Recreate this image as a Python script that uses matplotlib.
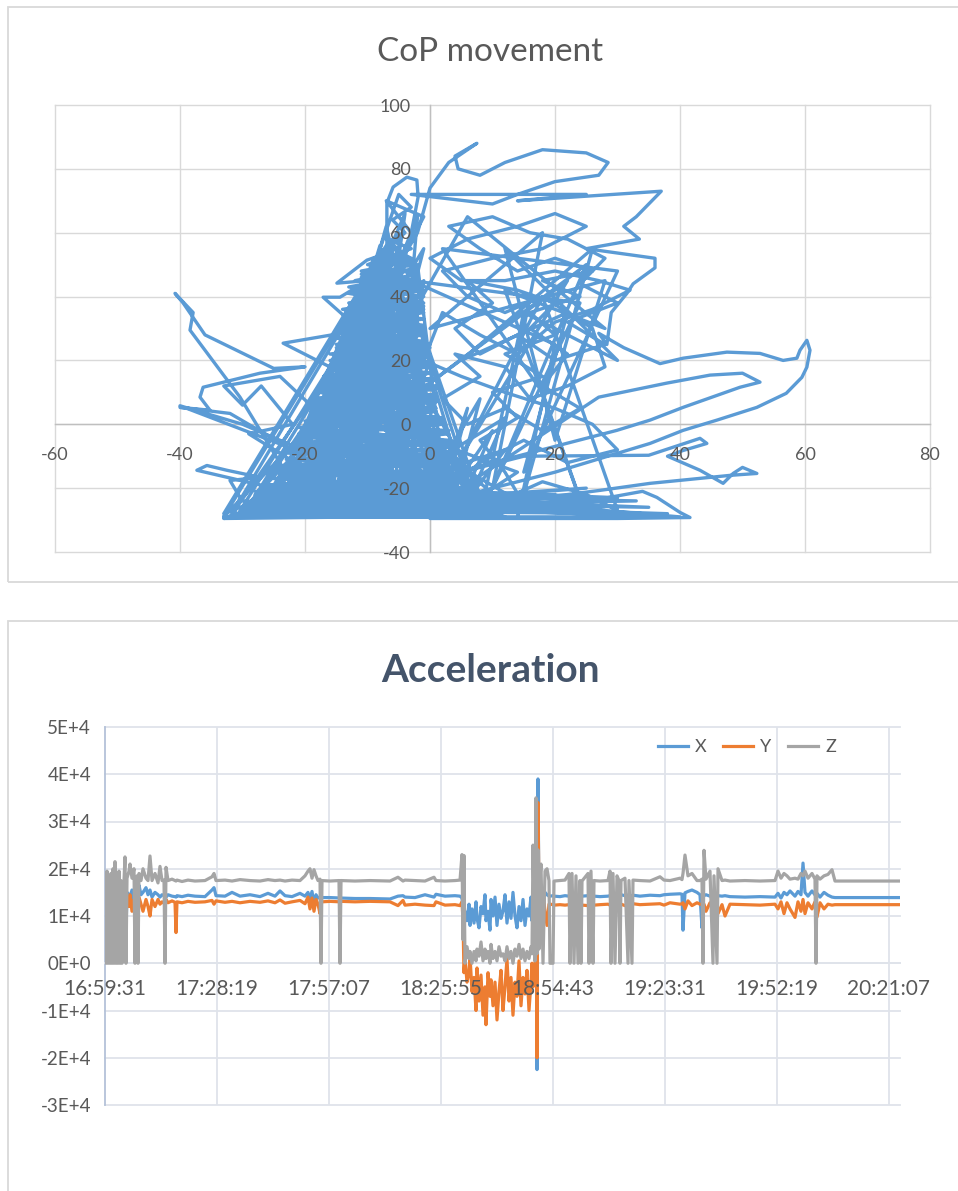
import matplotlib
matplotlib.use('Agg')
import matplotlib.pyplot as plt
from matplotlib.patches import Rectangle

plt.rcParams['font.family'] = ['Lato', 'DejaVu Sans']

# ---------------- CoP movement data (x, y) ----------------
cop_core = [
    (-20, -29), (-8, 45), (-25, -29), (-5, 55), (-12, -29), (-10, 35), (-30, -29), (-6, 40), (-15, -29), (-3, 60),
    (-22, -29), (-9, 30), (-5, -29), (-12, 20), (-28, -29), (-4, 50), (-18, -29), (-7, 25), (-2, -29), (-11, 42),
    (-26, -29), (-2, 35), (-10, -29), (-14, 10), (-33, -29), (-6, 58), (-16, -29), (-1, 45), (-8, -29), (-13, 28),
    (0, -29), (-9, 52), (-24, -29), (-4, 15), (4, -29), (-7, 62), (-20, -29), (-3, 25), (-14, -29), (-10, 48),
    (2, -29), (-5, 38), (-27, -29), (-1, 55), (-12, -29), (-15, 18), (6, -29), (-8, 33), (-19, -29), (-2, 65),
    (-6, -29), (-11, 5), (8, -29), (-4, 44), (-23, -29), (-7, 18), (10, -29), (-9, 40), (-31, -29), (-3, 30),
    (-17, -29), (-6, 48), (-1, -29), (-12, 38), (5, -29), (-5, 22), (-21, -29), (-8, 56), (-9, -29), (0, 20),
    (-29, -29), (-10, 12), (3, -29), (-2, 50), (-13, -29), (-13, 33), (-7, -29), (-6, 28), (-25, -29), (-4, 66),
    (-11, -29), (1, 10), (7, -29), (-9, 24), (-3, -29), (-7, 52), (-18, -29), (-16, 0), (1, -29), (-3, 40),
    (-15, -29), (-11, 30), (-32, -29), (-5, 60), (-4, -29), (-1, 28), (9, -29), (-8, 15), (-22, -29), (-6, 35),
]
cop_fill_a = [
    (-9, 52), (-2, 49), (-12, 45), (-1, 42), (-13, 38), (-1, 35), (-14, 31), (-1, 28), (-15, 24), (0, 21),
    (-16, 17), (1, 14), (-18, 10), (1, 7), (-19, 3), (2, 0), (-21, -4), (4, -7), (-23, -11), (5, -14),
    (-25, -17), (7, -20), (-28, -23), (10, -26), (-32, -29),
    (11, -28), (-29, -25), (8, -22), (-26, -19), (6, -16), (-24, -13), (5, -9), (-22, -6), (3, -2), (-20, 1),
    (1, 5), (-19, 8), (1, 12), (-17, 15), (0, 19), (-16, 22), (-1, 26), (-14, 29), (-1, 33), (-14, 36),
    (-1, 40), (-13, 43), (-2, 47), (-10, 50), (-3, 55),
]
cop_fill_b = [
    (-7, 58), (-4, 53), (-11, 47), (-2, 44), (-12, 41), (-2, 37), (-13, 34), (-1, 30), (-15, 27), (-1, 23),
    (-15, 19), (0, 16), (-17, 12), (1, 9), (-18, 5), (2, 2), (-20, -1), (2, -5), (-22, -8), (4, -11),
    (-24, -14), (6, -17), (-26, -20), (8, -23), (-30, -27), (12, -29),
    (-31, -28), (9, -25), (-27, -22), (7, -18), (-25, -15), (5, -12), (-23, -9), (3, -6), (-21, -3), (2, 1),
    (-19, 4), (1, 8), (-18, 11), (0, 14), (-16, 18), (0, 22), (-15, 25), (-1, 29), (-14, 32), (-1, 36),
    (-12, 39), (-2, 43), (-11, 46), (-3, 50), (-8, 53), (-4, 60), (-6, 64), (-3, 68), (-5, 72),
]
cop_fill_c = [
    (-8, 55), (-3, 51), (-11, 48), (-2, 45), (-12, 42), (-1, 38), (-13, 35), (-2, 32), (-14, 28), (0, 25),
    (-15, 21), (0, 18), (-17, 14), (1, 11), (-18, 7), (1, 4), (-20, 0), (3, -3), (-22, -7), (4, -10),
    (-24, -13), (6, -16), (-26, -19), (8, -22), (-29, -25), (11, -27), (-33, -29),
    (10, -29), (-30, -26), (9, -24), (-27, -20), (6, -18), (-25, -14), (5, -11), (-23, -8), (3, -5), (-21, -1),
    (2, 2), (-19, 6), (1, 9), (-17, 13), (0, 16), (-16, 20), (0, 24), (-15, 27), (-1, 31), (-13, 34),
    (-1, 37), (-13, 41), (-2, 44), (-10, 48), (-3, 52), (-7, 56),
]
cop_base = [
    (-33, -28), (-20, -18), (-28, -29), (-10, -15), (-22, -29), (-25, -20), (-15, -29), (5, -12), (-8, -29), (-18, -16),
    (-3, -29), (8, -18), (0, -29), (-12, -10), (12, -29), (-30, -24), (3, -29), (-6, -5), (10, -28), (-26, -14),
    (-1, -29), (14, -22), (-20, -29), (2, -8), (-12, -29), (-28, -22), (6, -29), (-4, -12), (-30, -29), (15, -26),
]
cop_floor = [
    (-30, -27), (38, -28), (-25, -24), (35, -26), (-28, -21), (30, -23), (-20, -19), (40, -29), (-33, -29), (25, -20),
    (-22, -26), (33, -24), (-18, -22), (28, -27), (-26, -28), (20, -22), (-15, -25), (37, -29), (-10, -21), (22, -25),
]
cop_right_core = [
    (0, -29), (6, 5), (2, -25), (10, -2), (4, -29), (12, -8), (1, -15), (8, 8), (3, -29), (14, -15),
    (0, -5), (9, -20), (5, -29), (12, 2), (2, -10), (15, -25),
]
cop_mid = [
    (12, -15), (8, -5), (14, 2), (10, 10), (18, 15), (12, 22), (20, 28), (16, 35), (24, 40), (18, 45),
    (26, 48), (20, 52), (14, 48), (8, 55), (3, 62), (10, 65), (16, 60), (22, 58), (28, 52), (24, 44),
    (30, 38), (22, 32), (28, 25), (20, 20), (14, 28), (8, 22), (4, 30), (10, 38), (6, 45), (14, 42),
    (20, 38), (16, 30), (22, 22), (18, 12), (24, 5), (18, -2), (12, 5), (6, 0), (2, 8), (8, 15),
    (4, 22), (12, 18), (16, 8), (22, 12), (28, 18), (26, 30), (18, 40), (12, 35), (6, 40), (2, 48),
    (10, 52), (18, 55), (25, 62), (20, 66), (14, 62), (6, 58), (0, 52), (5, 45), (12, 45), (20, 48),
    (27, 45), (32, 42), (26, 36), (20, 32), (14, 22), (8, 28), (2, 35), (-1, 20), (5, 15), (12, 10),
    (20, 5), (26, 0), (30, -8), (22, -12), (15, -5), (8, -12), (3, -20), (10, -25), (18, -18), (25, -22),
    (30, -27), (18, 40), (5, -10), (22, 45), (-2, 10), (25, 50), (8, -29), (15, 35), (30, 20), (12, 55),
    (20, -5), (28, 45), (0, 30), (18, 60), (10, -20), (24, 38), (-3, 45), (20, 25), (14, -29), (26, 55),
    (5, 20), (22, 35), (15, -15), (30, 48), (2, 55), (18, 10), (25, -29), (12, 42), (28, 30), (6, 65),
]
cop_left = [
    (-20, -25), (-30.4, 8.5), (-38.4, 29.5), (-37.9, 35), (-40.8, 41), (-39.5, 38), (-36, 28), (-25, 17.5), (-20, 18), (-27.2, 16),
    (-36.3, 11.6), (-36.8, 8.5), (-35.2, 4.4), (-40, 5.3), (-32, 3.4), (-22.9, -7), (-40, 5.8), (-30, 0), (-18, -10), (-5, -20),
    (-24, 15), (-33, 12), (-30, 6), (-27, 12), (-22, 0), (-29, -3), (-15, -20), (-25, -20), (-37.3, -14.4), (-35.7, -12.9),
    (-32.5, -14.4), (-27.2, -16.6), (-32, -17.6), (-30.4, -22.9), (-31.5, -29.2), (-33, -29.5), (-10, -29), (-8, 10), (-23.5, 25.4), (-20.8, 26.3),
    (-11.2, 29.5), (-17.1, 39.8), (-14.4, 39.8), (-10, 45), (-14.9, 44.2), (-10.1, 51.4), (-6.9, 53.6), (-6.9, 69.3), (-5.9, 74.3), (-3.7, 77.4),
    (-2.1, 76.5), (-1.9, 71.2), (-3, 60), (-7, 70), (-1, 65), (-5, 50),
]
cop_top = [
    (-2, 60), (0, 74), (3, 82), (6, 86), (7.5, 88), (4, 84), (4.5, 80), (8, 78), (12, 82), (18, 86),
    (25, 85), (28.5, 82), (27, 78), (20, 76), (14, 72), (10, 69), (-3, 72), (25, 72), (14, 70), (37, 73),
    (35.5, 70), (33, 65), (31, 62), (33.5, 58), (25, 55), (36, 52), (36, 49), (32.5, 44), (31.5, 41), (29, 35),
    (28.3, 25), (27, 28.5), (31, 24), (36.8, 19), (40.5, 20.7), (47.5, 22.6), (52.8, 22.2), (56.5, 20), (58.7, 20.7), (59.2, 23.2),
    (60.3, 26.3), (60.8, 23.2), (60.3, 17.9), (59.5, 14.7), (57, 9.7), (52.3, 5.3), (45.9, 1.3), (40.5, -1.9), (35.2, -6), (20, -15),
    (0, -25), (-10, -29), (5, -20), (27, 8.5), (37.9, 12.9), (44.8, 15.4), (50, 16), (52.8, 13.2), (49.6, 11.6), (40.5, 5.3),
    (35.2, 1.3), (29.9, -1.9), (10, -12), (-5, -20), (15, -10), (35, -9.7), (43.2, -4.4), (44.3, -6), (40.5, -8.2), (38, -10),
    (43.2, -14.4), (46.9, -18.5), (48.5, -15.4), (50, -13.5), (52.3, -15.4), (48, -16), (35.2, -18.5), (27.2, -20.7), (10, -25), (20, -26),
    (34, -21), (36.3, -22.9), (40, -27.6), (41.6, -29.2), (30, -29.5), (0, -29.5),
]
cop_xticks = [-60, -40, -20, 0, 20, 40, 60, 80]
cop_yticks = [-40, -20, 0, 20, 40, 60, 80, 100]

# ---------------- Acceleration data ----------------
# minutes after 16:59:31
acc_t = [
    0.0, 0.26, 0.51, 0.77, 1.03, 1.29, 1.54, 1.80, 2.06, 2.31,
    2.57, 2.83, 3.09, 3.34, 3.60, 3.86, 4.11, 4.37, 4.89, 5.14,
    5.40, 5.66, 6.17, 6.43, 6.94, 7.46, 7.71, 7.97, 8.23, 8.49,
    8.74, 9.26, 9.77, 10.54, 11.06, 11.57, 12.09, 12.86, 13.63, 14.14,
    14.66, 15.17, 15.43, 15.69, 16.20, 17.23, 18.00, 18.26, 18.51, 19.80, 21.34, 23.14,
    25.71, 27.51, 28.03, 28.54, 30.86, 32.66, 34.71, 37.29, 39.86, 41.91,
    43.71, 45.00, 46.29, 48.09, 50.14, 51.43, 52.20, 52.71, 53.23, 53.74,
    54.26, 54.77, 55.29, 55.54, 55.80, 57.86, 60.17, 60.43, 60.69, 64.29, 68.14,
    73.29, 75.34, 76.63, 77.14, 79.71, 82.29, 84.60, 85.11, 87.43, 90.00,
    91.29, 91.80, 92.06, 92.31, 92.57, 93.09, 93.60, 93.86, 94.37, 94.89,
    95.40, 95.66, 96.17, 96.69, 97.20, 97.71, 97.97, 98.49, 99.00, 99.26,
    99.77, 100.29, 100.80, 101.31, 101.83, 102.34, 102.86, 103.37, 103.89, 104.40,
    104.91, 105.43, 105.94, 106.46, 106.97, 107.49, 108.00, 108.51, 109.03, 109.54,
    109.80, 110.06, 110.57, 110.83, 111.09, 111.34, 111.60, 111.86, 112.11, 112.63,
    113.14, 113.66, 114.17, 114.43, 115.20, 115.46, 117.00, 118.29, 119.31, 119.57,
    120.09, 120.60, 121.11, 121.63, 122.14, 122.40, 122.66, 124.20, 124.46, 124.97,
    125.49, 125.74, 127.29, 129.34, 129.86, 130.11, 130.63, 131.14, 131.66, 132.17,
    132.43, 132.69, 133.71, 134.49, 134.74, 135.51, 135.77, 137.57, 140.14, 142.71,
    143.74, 145.29, 147.86, 148.37, 148.63, 149.14, 149.91, 150.94, 152.23, 153.00, 153.51,
    153.77, 154.03, 154.54, 155.57, 156.34, 156.60, 157.37, 157.63, 158.66, 159.43,
    160.71, 164.57, 168.43, 172.29, 173.06, 173.83, 174.60, 175.37, 176.14, 177.43,
    178.20, 178.97, 179.49, 180.00, 180.77, 181.80, 182.57, 182.83, 183.09, 183.86,
    184.89, 185.91, 186.94, 187.71, 191.57, 196.71, 204.43,
]
acc_x = [
    18500, 14000, 15000, 13500, 14500, 14000, 15500, 13000, 14500, 14000,
    15000, 12000, 14500, 13500, 15000, 14000, 7500, 14500, 15000, 14000,
    7000, 15000, 14500, 14000, 15500, 13000, 14000, 14500, 15500, 14000,
    16500, 14500, 15000, 16000, 14500, 15500, 14000, 15000, 14500, 14000,
    14500, 14300, 14200, 14000, 14500, 14200, 14100, 14000, 14300, 14100, 14400, 14200,
    14100, 15500, 16000, 14300, 14200, 15000, 14200, 14500, 14100, 14800,
    14200, 15300, 14300, 14100, 14800, 14200, 15000, 13500, 15200, 12500,
    14500, 13800, 14000, 14000, 13900, 13900, 13800, 13800, 13800, 13700, 13700,
    13600, 14200, 14300, 14000, 13900, 14500, 14000, 14600, 14200, 14300,
    14200, 13800, 12000, 10000, 11000, 9000, 12500, 8000, 11500, 8500,
    13000, 9500, 7500, 12000, 10500, 14500, 9000, 11000, 7000, 13500,
    10000, 14000, 8000, 12500, 9500, 11000, 14500, 8500, 13000, 9500,
    15000, 10000, 7500, 12000, 9000, 13500, 8000, 11500, 10000, 14000,
    9000, 12000, 10000, 15000, -22500, 39000, 12000, 13000, 15500, 14000,
    15000, 14500, 14200, 14200, 14300, 14200, 14100, 14300, 14200, 14000,
    14500, 14000, 14300, 14200, 14200, 14200, 14200, 14300, 14000, 14500,
    14200, 14200, 14100, 14200, 14300, 14000, 14600, 14100, 14400, 14200,
    14200, 14500, 14300, 14200, 14600, 14200, 14400, 14200, 14400, 14300,
    14500, 14600, 14700, 14600, 7000, 14900, 15200, 15500, 15000, 14500, 7500,
    14200, 14300, 14500, 14200, 14200, 14400, 14100, 14300, 14200, 14300,
    14100, 14000, 14100, 14000, 14800, 13800, 15000, 14500, 15300, 14200,
    15200, 14500, 21200, 15000, 14200, 15300, 14500, 14200, 14800, 14000,
    15000, 14400, 14000, 13900, 13900, 13900, 13900,
]
acc_y = [
    11000, 13500, 11500, 12500, 14000, 11000, 13000, 12000, 14500, 12000,
    13500, 11500, 13000, 12500, 14000, 11500, 12000, 13500, 12500, 14000,
    11000, 13000, 12000, 14500, 11000, 13500, 12500, 10500, 13000, 12000,
    14000, 12500, 11000, 13500, 12000, 10000, 13500, 12000, 13500, 12500,
    13000, 12700, 12500, 13500, 12800, 13200, 12900, 6500, 13000, 12800, 13100, 12900,
    13000, 13300, 12500, 13200, 12900, 13100, 12800, 13100, 12900, 13200,
    12800, 13400, 12700, 13000, 13300, 12600, 14000, 11500, 13800, 11000,
    13500, 12500, 10500, 12800, 13000, 13100, 13000, 13000, 13100, 13000, 13100,
    13000, 12200, 13300, 12300, 12500, 12300, 12200, 13000, 12300, 12400,
    12200, 13000, 9000, -2000, 1000, -4000, -2000, 1500, -6000, -3000,
    -10000, -1000, -8000, -2500, -11000, -5000, -13000, -2000, -7000, -3500,
    -9000, -4000, -12000, -6000, -1500, -10000, -5000, 1000, -8000, -3000,
    -11000, -4000, -7000, 500, -9000, -3000, -6500, -1500, -10000, -4000,
    0, -5000, -2000, 12000, -20000, 34000, 14000, 10000, 12500, 15000,
    11000, 8000, 12500, 12500, 12400, 12300, 12400, 12300, 12400, 12200,
    12600, 12300, 12500, 12400, 12300, 12400, 12300, 12200, 12500, 12300,
    12400, 12300, 12400, 12500, 12300, 12600, 12200, 12500, 12300, 12400,
    12300, 12500, 12200, 12400, 12500, 12300, 12600, 12400, 12500, 12600,
    12300, 12800, 12500, 12600, 12800, 11500, 13200, 12200, 12800, 12500, 12400,
    12300, 12500, 11000, 12800, 12300, 12400, 12500, 10500, 12400, 10000,
    12500, 12400, 12300, 12500, 11500, 13000, 10500, 12800, 11500, 9700,
    13000, 11000, 13500, 10500, 12800, 11500, 13000, 12300, 9800, 12800,
    11500, 12500, 12300, 12400, 12400, 12400, 12400,
]
acc_z = [
    19000, 0, 19500, 0, 18500, 0, 19000, 0, 20000, 0,
    21500, 0, 18500, 0, 19500, 0, 17500, 0, 17500, 22500,
    0, 18000, 19500, 21000, 18000, 20000, 0, 17500, 18500, 0,
    19000, 17500, 20000, 18000, 17500, 22700, 17500, 19000, 17000, 20500,
    17500, 17600, 0, 20300, 17500, 17800, 17500, 17400, 17600, 17300, 17600, 17400,
    17500, 18300, 19000, 17500, 17600, 17400, 17700, 17500, 17400, 17700,
    17500, 17600, 17400, 17600, 17500, 18500, 19500, 20000, 18000, 19800,
    18500, 17500, 17800, 0, 17500, 17400, 17500, 0, 17500, 17400, 17500,
    17400, 18200, 17400, 17600, 17500, 17400, 18200, 17500, 17400, 17500,
    17600, 23000, 5000, 22800, 0, 3500, 1000, 2500, 0, 2500,
    500, 3000, 1500, 4500, 500, 3000, 1000, 2500, 0, 4000,
    1000, 2500, 500, 3500, 1500, 2000, 500, 3500, 1000, 2500,
    0, 3000, 1500, 4000, 1000, 3000, 500, 2500, 1000, 3500,
    2000, 25000, 500, 35000, 2000, 24000, 3000, 18000, 21000, 0,
    19500, 20000, 17500, 0, 0, 17400, 17500, 17600, 19000, 0,
    19000, 0, 18500, 0, 17500, 0, 17400, 19000, 0, 19500,
    0, 17500, 17400, 17500, 19500, 0, 19000, 0, 18500, 17500,
    0, 17500, 18000, 0, 17500, 0, 17600, 17500, 17400, 18300,
    17600, 17500, 18000, 17700, 19000, 22900, 18500, 19000, 17500, 17500, 17800,
    0, 23900, 17800, 19500, 0, 18500, 0, 20000, 17500, 17600,
    17400, 17500, 17400, 17500, 19500, 18000, 19000, 18500, 17800, 18000,
    17800, 19000, 18500, 19500, 18000, 19000, 17800, 0, 18500, 17800,
    18500, 18800, 19800, 17400, 17400, 17400, 17400,
]
acc_tick_minutes = [0, 28.8, 57.6, 86.4, 115.2, 144.0, 172.8, 201.6]
acc_tick_labels = ['16:59:31', '17:28:19', '17:57:07', '18:25:55',
                   '18:54:43', '19:23:31', '19:52:19', '20:21:07']
acc_yticks = [-30000, -20000, -10000, 0, 10000, 20000, 30000, 40000, 50000]
acc_ylabels = ['-3E+4', '-2E+4', '-1E+4', '0E+0', '1E+4', '2E+4', '3E+4', '4E+4', '5E+4']

# ---------------- Figure ----------------
W, H = 958, 1191
fig = plt.figure(figsize=(W / 100, H / 100), dpi=100)
fig.patch.set_facecolor('white')

border = '#d9d9d9'
fig.add_artist(Rectangle((8 / W, 1 - 582 / H), (W + 10 - 8) / W, (582 - 7) / H,
                         transform=fig.transFigure, fill=False, ec=border, lw=1.3))
fig.add_artist(Rectangle((8 / W, -0.01), (W + 10 - 8) / W, 1 - 621 / H + 0.01,
                         transform=fig.transFigure, fill=False, ec=border, lw=1.3))

label_col = '#595959'

# ---- Top chart ----
ax1 = fig.add_axes([55 / W, 1 - 552 / H, 875 / W, 447 / H])
ax1.set_xlim(-60, 80)
ax1.set_ylim(-40, 100)
ax1.set_axisbelow(False)
for v in cop_xticks:
    ax1.axvline(v, color='#d9d9d9', lw=1.0, zorder=0, clip_on=False)
for v in cop_yticks:
    ax1.axhline(v, color='#d9d9d9', lw=1.0, zorder=0, clip_on=False)
path = (cop_core + cop_fill_a + cop_fill_b + cop_fill_c + cop_base + cop_floor
        + cop_right_core + cop_mid + cop_left + cop_top)
ax1.plot([p[0] for p in path], [p[1] for p in path], color='#5b9bd5', lw=2.4,
         solid_joinstyle='round', solid_capstyle='round', zorder=2)
for s in ['top', 'right']:
    ax1.spines[s].set_visible(False)
ax1.spines['left'].set_position(('data', 0))
ax1.spines['bottom'].set_position(('data', 0))
for s in ['left', 'bottom']:
    ax1.spines[s].set_color('#bfbfbf')
    ax1.spines[s].set_linewidth(1.0)
    ax1.spines[s].set_zorder(1)
ax1.set_xticks(cop_xticks)
ax1.set_yticks(cop_yticks)
ax1.set_xticklabels([str(v) for v in cop_xticks])
ax1.set_yticklabels([str(v) for v in cop_yticks])
ax1.tick_params(axis='both', length=0, labelsize=13, labelcolor=label_col)
ax1.tick_params(axis='x', pad=16)
ax1.tick_params(axis='y', pad=14)
ax1.set_facecolor('none')
fig.text(490 / W, 1 - 52 / H, 'CoP movement', ha='center', va='center',
         fontsize=24, color=label_col)

# ---- Bottom chart ----
ax2 = fig.add_axes([105 / W, 1 - 1105 / H, 795 / W, 378 / H])
ax2.set_xlim(0, 204.43)
ax2.set_ylim(-30000, 50000)
ax2.set_axisbelow(False)
grid_col = '#dfe3ea'
for v in acc_yticks:
    ax2.axhline(v, color=grid_col, lw=1.3, zorder=0, clip_on=False)
for v in acc_tick_minutes[1:]:
    ax2.axvline(v, color=grid_col, lw=1.3, zorder=0)
ax2.plot(acc_t, acc_x, color='#5b9bd5', lw=2.3, label='X', zorder=2)
ax2.plot(acc_t, acc_y, color='#ed7d31', lw=2.3, label='Y', zorder=2.1)
ax2.plot(acc_t, acc_z, color='#a5a5a5', lw=2.3, label='Z', zorder=2.2)
for s in ['top', 'right']:
    ax2.spines[s].set_visible(False)
ax2.spines['bottom'].set_position(('data', 0))
ax2.spines['bottom'].set_color(grid_col)
ax2.spines['bottom'].set_linewidth(1.3)
ax2.spines['bottom'].set_zorder(1)
ax2.spines['left'].set_color('#b4c2d9')
ax2.spines['left'].set_linewidth(1.3)
ax2.spines['left'].set_zorder(1)
ax2.set_xticks(acc_tick_minutes)
ax2.set_xticklabels(acc_tick_labels)
ax2.set_yticks(acc_yticks)
ax2.set_yticklabels(acc_ylabels)
ax2.tick_params(axis='both', length=0, labelsize=13.5, labelcolor=label_col)
ax2.tick_params(axis='x', labelsize=15, pad=11)
ax2.tick_params(axis='y', pad=10)
ax2.set_facecolor('none')
leg = ax2.legend(loc='center right', bbox_to_anchor=(0.94, 0.947), ncol=3, frameon=False,
                 fontsize=13, handlelength=1.67, columnspacing=0.9, handletextpad=0.4,
                 labelcolor=label_col)
fig.text(490 / W, 1 - 670 / H, 'Acceleration', ha='center', va='center',
         fontsize=28, fontweight='bold', color='#44546a')

fig.savefig('out.png', dpi=100, facecolor='white')
